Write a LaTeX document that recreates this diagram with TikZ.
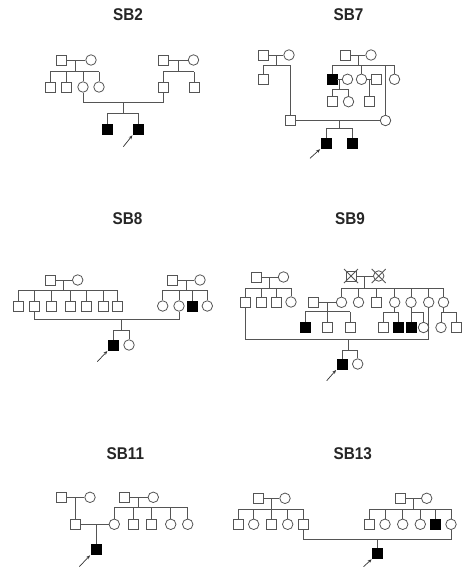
\documentclass[tikz,border=0pt]{standalone}
\usepackage{fontspec}
\newfontfamily\ttlfont{Liberation Sans}
\usetikzlibrary{arrows.meta}
\definecolor{lc}{RGB}{85,85,85}
\tikzset{
 ln/.style={draw=lc, line width=0.8pt},
 sqm/.style={rectangle, draw=lc, line width=0.8pt, minimum size=10pt, inner sep=0pt, fill=white},
 cif/.style={circle, draw=lc, line width=0.8pt, minimum size=10.5pt, inner sep=0pt, fill=white},
 sqa/.style={sqm, fill=black, draw=black},
 ttl/.style={font=\ttlfont\bfseries\fontsize{17}{17}\selectfont, xscale=0.9, inner sep=0pt, text=black!85},
 arr/.style={draw=black!80, line width=0.7pt, -{Stealth[length=4pt,width=3.2pt]}, shorten >=0.8pt},
}
\newcommand\kids[2]{\foreach \c in {#2} {\draw[ln] (\c.north) -- (\c.north |- #1);}}
\begin{document}
\begin{tikzpicture}[x=1pt,y=-1pt]
\useasboundingbox (0,0) rectangle (462,568);
% ---------------- titles
\node[ttl] (t2) at (128,15) {SB2};
\node[ttl] (t7) at (348.5,15) {SB7};
\node[ttl] (t8) at (127.5,219) {SB8};
\node[ttl] (t9) at (350,219) {SB9};
\node[ttl] (t11) at (125.3,453.3) {SB11};
\node[ttl] (t13) at (352.7,453.3) {SB13};

% ================= SB2
\node[sqm] (A1) at (61,60) {};
\node[cif] (A2) at (91,60) {};
\node[sqm] (A3) at (50,87) {};
\node[sqm] (A4) at (66,87) {};
\node[cif] (A5) at (83,87) {};
\node[cif] (A6) at (99,87) {};
\node[sqm] (B1) at (163,60) {};
\node[cif] (B2) at (193.5,60) {};
\node[sqm] (B3) at (163,87) {};
\node[sqm] (B4) at (194,87) {};
\node[sqa] (C1) at (107.7,129.3) {};
\node[sqa] (C2) at (138.3,129.3) {};
\coordinate (am) at (75.5,60); \coordinate (as) at (75.5,71.7);
\coordinate (bm) at (178.5,60); \coordinate (bs) at (178.5,71.7);
\coordinate (cm) at (123.3,102.7); \coordinate (cs) at (123.3,113.3);
\coordinate (ct) at (123.3,146.7);
\draw[ln] (A1) -- (A2); \draw[ln] (am) -- (as);
\kids{as}{A3,A4,A5,A6}; \draw[ln] (A3.north |- as) -- (A6.north |- as);
\draw[ln] (B1) -- (B2); \draw[ln] (bm) -- (bs);
\kids{bs}{B3,B4}; \draw[ln] (B3.north |- bs) -- (B4.north |- bs);
\draw[ln] (A5) |- (cm) -| (B3); \draw[ln] (cm) -- (cs);
\kids{cs}{C1,C2}; \draw[ln] (C1.north |- cs) -- (C2.north |- cs);
\draw[arr] (ct) -- (C2.south west);

% ================= SB7
\node[sqm] (D1) at (263,55) {};
\node[cif] (D2) at (289,55) {};
\node[sqm] (D3) at (263,79) {};
\node[sqm] (D4) at (345.5,55) {};
\node[cif] (D5) at (371,55) {};
\node[sqa] (D6) at (332,79.3) {};
\node[cif] (D7) at (347.5,79.3) {};
\node[cif] (D8) at (361.5,79.3) {};
\node[sqm] (D9) at (376,79.3) {};
\node[cif] (D10) at (394.5,79.3) {};
\node[sqm] (D11) at (332,101.7) {};
\node[cif] (D12) at (348.5,101.7) {};
\node[sqm] (D13) at (369,101.7) {};
\node[sqm] (F1) at (290.5,120.5) {};
\node[cif] (F2) at (385.5,120.5) {};
\node[sqa] (G1) at (326,143.3) {};
\node[sqa] (G2) at (352.7,143.3) {};
\coordinate (dm) at (276,55); \coordinate (ds) at (276,65.3); \coordinate (dsr) at (290.5,65.3);
\coordinate (em) at (358,55); \coordinate (es) at (358,65.3); \coordinate (ek) at (385.5,65.3);
\coordinate (hm) at (339.3,79.3); \coordinate (hs) at (339.3,89.3);
\coordinate (im) at (369,79.3);
\coordinate (gm) at (339.3,120.5); \coordinate (gs) at (339.3,128.5);
\coordinate (gt) at (310,158.3);
\draw[ln] (D1) -- (D2); \draw[ln] (dm) -- (ds);
\draw[ln] (D3.north) |- (dsr) -- (F1);
\draw[ln] (D4) -- (D5); \draw[ln] (em) -- (es);
\kids{es}{D6,D8,D10}; \draw[ln] (D6.north |- es) -- (D10.north |- es);
\draw[ln] (ek) -- (F2);
\draw[ln] (D6) -- (D7); \draw[ln] (hm) -- (hs);
\kids{hs}{D11,D12}; \draw[ln] (D11.north |- hs) -- (D12.north |- hs);
\draw[ln] (D8) -- (D9); \draw[ln] (im) -- (D13);
\draw[ln] (F1) -- (F2); \draw[ln] (gm) -- (gs);
\kids{gs}{G1,G2}; \draw[ln] (G1.north |- gs) -- (G2.north |- gs);
\draw[arr] (gt) -- (G1.south west);

% ================= SB8
\node[sqm] (H1) at (50,280) {};
\node[cif] (H2) at (77.7,280) {};
\node[sqm] (H3) at (18.3,306) {};
\node[sqm] (H4) at (34.3,306) {};
\node[sqm] (H5) at (51,306) {};
\node[sqm] (H6) at (70,306) {};
\node[sqm] (H7) at (86,306) {};
\node[sqm] (H8) at (103.3,306) {};
\node[sqm] (H9) at (117.3,306) {};
\node[sqm] (I1) at (172.7,280) {};
\node[cif] (I2) at (200,280) {};
\node[cif] (I3) at (162.7,306) {};
\node[cif] (I4) at (179,306) {};
\node[sqa] (I5) at (192.7,306) {};
\node[cif] (I6) at (207.3,306) {};
\node[sqa] (J1) at (113.3,345) {};
\node[cif] (J2) at (129,345) {};
\coordinate (hhm) at (63.5,280); \coordinate (hhs) at (63.5,290.3);
\coordinate (iim) at (186.3,280); \coordinate (iis) at (186.3,290.3);
\coordinate (jm) at (121,319.3); \coordinate (js) at (121,330);
\coordinate (jt) at (97.3,361.7);
\draw[ln] (H1) -- (H2); \draw[ln] (hhm) -- (hhs);
\kids{hhs}{H3,H4,H5,H6,H7,H8,H9}; \draw[ln] (H3.north |- hhs) -- (H9.north |- hhs);
\draw[ln] (I1) -- (I2); \draw[ln] (iim) -- (iis);
\kids{iis}{I3,I4,I5,I6}; \draw[ln] (I3.north |- iis) -- (I6.north |- iis);
\draw[ln] (H4) |- (jm) -| (I4); \draw[ln] (jm) -- (js);
\kids{js}{J1,J2}; \draw[ln] (J1.north |- js) -- (J2.north |- js);
\draw[arr] (jt) -- (J1.south west);

% ================= SB9
\node[sqm] (K1) at (256.5,277) {};
\node[cif] (K2) at (283.5,277) {};
\node[sqm] (K3) at (245,302) {};
\node[sqm] (K4) at (261.3,302) {};
\node[sqm] (K5) at (276,302) {};
\node[cif] (K6) at (291,302) {};
\node[sqm] (L1) at (351,276) {};
\node[cif] (L2) at (378.7,276) {};
\node[cif] (L3) at (341.5,302.3) {};
\node[cif] (L4) at (358.5,302.3) {};
\node[sqm] (L5) at (376.7,302.3) {};
\node[cif] (L6) at (394.7,302.3) {};
\node[cif] (L7) at (411,302.3) {};
\node[cif] (L8) at (428.7,302.3) {};
\node[cif] (L9) at (443.5,302.3) {};
\node[sqm] (L10) at (313.3,302.3) {};
\node[sqa] (M1) at (305,327) {};
\node[sqm] (M2) at (327.7,327) {};
\node[sqm] (M3) at (350,327) {};
\node[sqm] (M4) at (383.8,327.5) {};
\node[sqa] (M5) at (398.3,327.5) {};
\node[sqa] (M6) at (411,327.5) {};
\node[cif] (M7) at (423.5,327.5) {};
\node[cif] (M8) at (441,327.5) {};
\node[sqm] (M9) at (456,327.5) {};
\node[sqa] (N1) at (342,364) {};
\node[cif] (N2) at (357.7,364) {};
\coordinate (km) at (269.5,277); \coordinate (ks) at (269.5,288.3);
\coordinate (lm) at (364.7,276); \coordinate (ls) at (364.7,288.3);
\coordinate (mm) at (327.7,302.3); \coordinate (ms) at (327.7,311.7);
\coordinate (m6s) at (394.7,312);
\coordinate (m7s) at (411,312);
\coordinate (m9s) at (443.5,312);
\coordinate (nm) at (348.7,339.3); \coordinate (ns) at (348.7,350);
\coordinate (nt) at (326.7,380.7);
\draw[ln] (K1) -- (K2); \draw[ln] (km) -- (ks);
\kids{ks}{K3,K4,K5,K6}; \draw[ln] (K3.north |- ks) -- (K6.north |- ks);
\draw[ln] (L1) -- (L2); \draw[ln] (lm) -- (ls);
\kids{ls}{L3,L4,L5,L6,L7,L8,L9}; \draw[ln] (L3.north |- ls) -- (L9.north |- ls);
\draw[ln] ([shift={(-7,-7)}]L1.center) -- ([shift={(7,7)}]L1.center);
\draw[ln] ([shift={(7,-7)}]L1.center) -- ([shift={(-7,7)}]L1.center);
\draw[ln] ([shift={(-7,-7)}]L2.center) -- ([shift={(7,7)}]L2.center);
\draw[ln] ([shift={(7,-7)}]L2.center) -- ([shift={(-7,7)}]L2.center);
\draw[ln] (L10) -- (L3); \draw[ln] (mm) -- (ms);
\kids{ms}{M1,M2,M3}; \draw[ln] (M1.north |- ms) -- (M3.north |- ms);
\draw[ln] (L6) -- (m6s);
\kids{m6s}{M4,M5}; \draw[ln] (M4.north |- m6s) -- (M5.north |- m6s);
\draw[ln] (L7) -- (m7s);
\kids{m7s}{M6,M7}; \draw[ln] (M6.north |- m7s) -- (M7.north |- m7s);
\draw[ln] (L9) -- (m9s);
\kids{m9s}{M8,M9}; \draw[ln] (M8.north |- m9s) -- (M9.north |- m9s);
\draw[ln] (K3) |- (nm) -| (L8); \draw[ln] (nm) -- (ns);
\kids{ns}{N1,N2}; \draw[ln] (N1.north |- ns) -- (N2.north |- ns);
\draw[arr] (nt) -- (N1.south west);

% ================= SB11
\node[sqm] (O1) at (61,497.3) {};
\node[cif] (O2) at (90,497.3) {};
\node[sqm] (O3) at (75.3,524.3) {};
\node[sqm] (P1) at (124.3,497.3) {};
\node[cif] (P2) at (153.3,497.3) {};
\node[cif] (P3) at (114.3,524.3) {};
\node[sqm] (P4) at (133.3,524.3) {};
\node[sqm] (P5) at (151.7,524.3) {};
\node[cif] (P6) at (170.7,524.3) {};
\node[cif] (P7) at (187.7,524.3) {};
\node[sqa] (Q1) at (96,549.3) {};
\coordinate (om) at (75.3,497.3);
\coordinate (pm) at (138.5,497.3); \coordinate (ps) at (138.5,507.7);
\coordinate (qm) at (96,524.3);
\coordinate (qt) at (79.3,566.7);
\draw[ln] (O1) -- (O2); \draw[ln] (om) -- (O3);
\draw[ln] (P1) -- (P2); \draw[ln] (pm) -- (ps);
\kids{ps}{P3,P4,P5,P6,P7}; \draw[ln] (P3.north |- ps) -- (P7.north |- ps);
\draw[ln] (O3) -- (P3); \draw[ln] (qm) -- (Q1);
\draw[arr] (qt) -- (Q1.south west);

% ================= SB13
\node[sqm] (R1) at (258.3,498.3) {};
\node[cif] (R2) at (285,498.3) {};
\node[sqm] (R3) at (238.3,524.3) {};
\node[cif] (R4) at (253.7,524.3) {};
\node[sqm] (R5) at (271.7,524.3) {};
\node[cif] (R6) at (287.7,524.3) {};
\node[sqm] (R7) at (303.7,524.3) {};
\node[sqm] (S1) at (400.3,498.3) {};
\node[cif] (S2) at (426.7,498.3) {};
\node[sqm] (S3) at (369.3,524.3) {};
\node[cif] (S4) at (385,524.3) {};
\node[cif] (S5) at (402.7,524.3) {};
\node[cif] (S6) at (420.3,524.3) {};
\node[sqa] (S7) at (435,524.3) {};
\node[cif] (S8) at (451,524.3) {};
\node[sqa] (T1) at (377.7,553.3) {};
\coordinate (rm) at (271.5,498.3); \coordinate (rs) at (271.5,509);
\coordinate (sm) at (413.5,498.3); \coordinate (ss) at (413.5,509);
\coordinate (tm) at (377.7,539.3);
\coordinate (tt) at (363.5,566.7);
\draw[ln] (R1) -- (R2); \draw[ln] (rm) -- (rs);
\kids{rs}{R3,R4,R5,R6,R7}; \draw[ln] (R3.north |- rs) -- (R7.north |- rs);
\draw[ln] (S1) -- (S2); \draw[ln] (sm) -- (ss);
\kids{ss}{S3,S4,S5,S6,S7,S8}; \draw[ln] (S3.north |- ss) -- (S8.north |- ss);
\draw[ln] (R7) |- (tm) -| (S8); \draw[ln] (tm) -- (T1);
\draw[arr] (tt) -- (T1.south west);
\end{tikzpicture}
\end{document}
